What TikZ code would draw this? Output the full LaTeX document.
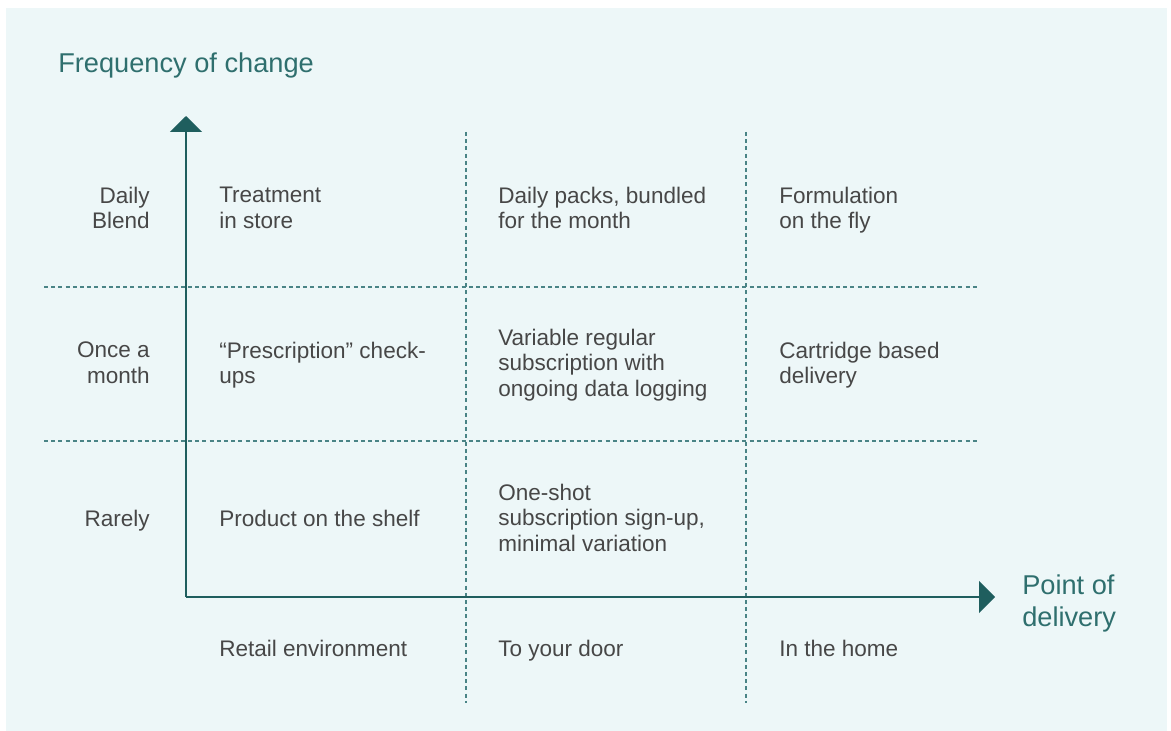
\documentclass[tikz,border=0pt]{standalone}
\usepackage{fontspec}
\setmainfont{Liberation Sans}
\usetikzlibrary{arrows.meta}
\definecolor{panel}{HTML}{EDF7F8}
\definecolor{axisteal}{HTML}{1F5E5E}
\definecolor{titleteal}{HTML}{2F6F6E}
\definecolor{gridteal}{HTML}{4A8486}
\definecolor{bodygray}{HTML}{474747}

\begin{document}
\begin{tikzpicture}[x=0.75pt,y=-0.75pt,
  cell/.style={anchor=west, align=left, inner sep=0pt, text=bodygray,
    font=\fontsize{16.9pt}{19.1pt}\selectfont,
    execute at begin node=\strut, execute at end node=\strut},
  rowlab/.style={cell, anchor=east, align=right},
  axislab/.style={anchor=west, align=left, inner sep=0pt, text=titleteal,
    font=\fontsize{20.4pt}{24pt}\selectfont,
    execute at begin node=\strut, execute at end node=\strut},
  grid/.style={gridteal, line width=1pt, dash pattern=on 3pt off 2.4pt},
  axis/.style={axisteal, line width=1.5pt, -{Triangle[length=12pt,width=24pt]}}]
\useasboundingbox (0,0) rectangle (1171,731);
\fill[panel] (6,8) rectangle (1167,731);
% grid
\coordinate (V1t) at (466,132);
\coordinate (V1b) at (466,703);
\coordinate (V2t) at (746,132);
\coordinate (V2b) at (746,703);
\coordinate (H1l) at (44,287);
\coordinate (H1r) at (978,287);
\coordinate (H2l) at (44,441);
\coordinate (H2r) at (978,441);
\draw[grid] (V1t) -- (V1b);
\draw[grid] (V2t) -- (V2b);
\draw[grid] (H1l) -- (H1r);
\draw[grid] (H2l) -- (H2r);
% axes
\coordinate (O) at (186,597);
\coordinate (Y) at (186,116);
\coordinate (X) at (995,597);
\draw[axis] (O) -- (Y);
\draw[axis] (O) -- (X);
\node[axislab] (ytitle) at (58,66) {Frequency of change};
\node[axislab] (xtitle) at (1022,605) {Point of\\delivery};
% rows
\node[rowlab] (daily) at (150,211.5) {Daily\\Blend};
\node[rowlab] (monthly) at (150,366.5) {Once a\\month};
\node[rowlab] (rarely) at (150,521.5) {Rarely};
% cells
\node[cell] (c11) at (219,211.5) {Treatment\\in store};
\node[cell] (c12) at (498,211.5) {Daily packs, bundled\\for the month};
\node[cell] (c13) at (779,211.5) {Formulation\\on the fly};
\node[cell] (c21) at (219,366.5) {“Prescription” check-\\ups};
\node[cell] (c22) at (498,366.5) {Variable regular\\subscription with\\ongoing data logging};
\node[cell] (c23) at (779,366.5) {Cartridge based\\delivery};
\node[cell] (c31) at (219,521.5) {Product on the shelf};
\node[cell] (c32) at (498,521.5) {One-shot\\subscription sign-up,\\minimal variation};
% columns
\node[cell] (retail) at (219,651.5) {Retail environment};
\node[cell] (door) at (498,651.5) {To your door};
\node[cell] (home) at (779,651.5) {In the home};
\end{tikzpicture}
\end{document}
